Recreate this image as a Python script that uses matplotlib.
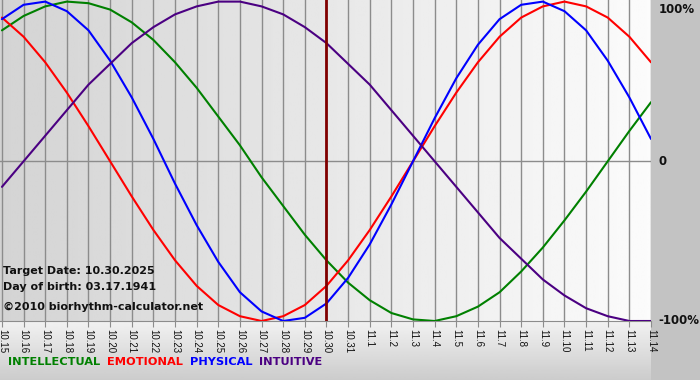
import numpy as np
import matplotlib
matplotlib.use("Agg")
import matplotlib.pyplot as plt
import matplotlib as mpl

mpl.rcParams.update({
    'font.family': 'DejaVu Sans',
    'figure.dpi': 100,
    'savefig.dpi': 100,
})

# Dias (10.15 -> 11.14)
day_labels = ['10.15', '10.16', '10.17', '10.18', '10.19', '10.20', '10.21',
              '10.22', '10.23', '10.24', '10.25', '10.26', '10.27', '10.28',
              '10.29', '10.30', '10.31', '11.1', '11.2', '11.3', '11.4',
              '11.5', '11.6', '11.7', '11.8', '11.9', '11.10', '11.11',
              '11.12', '11.13', '11.14']
target_label = '10.30'

# Valores (fracao de 100%)
intellectual = [0.82, 0.91, 0.97, 1.00, 0.99, 0.95, 0.87, 0.76, 0.62, 0.46,
                0.28, 0.10, -0.10, -0.28, -0.46, -0.62, -0.76, -0.87, -0.95,
                -0.99, -1.00, -0.97, -0.91, -0.82, -0.69, -0.54, -0.37, -0.19,
                0.00, 0.19, 0.37]
emotional = [0.90, 0.78, 0.62, 0.43, 0.22, 0.00, -0.22, -0.43, -0.62, -0.78,
             -0.90, -0.97, -1.00, -0.97, -0.90, -0.78, -0.62, -0.43, -0.22,
             0.00, 0.22, 0.43, 0.62, 0.78, 0.90, 0.97, 1.00, 0.97, 0.90,
             0.78, 0.62]
physical = [0.89, 0.98, 1.00, 0.94, 0.82, 0.63, 0.40, 0.14, -0.14, -0.40,
            -0.63, -0.82, -0.94, -1.00, -0.98, -0.89, -0.73, -0.52, -0.27,
            0.00, 0.27, 0.52, 0.73, 0.89, 0.98, 1.00, 0.94, 0.82, 0.63,
            0.40, 0.14]
intuitive = [-0.16, 0.00, 0.16, 0.32, 0.48, 0.61, 0.74, 0.84, 0.92, 0.97,
             1.00, 1.00, 0.97, 0.92, 0.84, 0.74, 0.61, 0.48, 0.32, 0.16,
             0.00, -0.16, -0.32, -0.48, -0.61, -0.74, -0.84, -0.92, -0.97,
             -1.00, -1.00]

series = [
    ('INTELLECTUAL', intellectual, '#008000'),
    ('EMOTIONAL', emotional, '#ff0000'),
    ('PHYSICAL', physical, '#0000ff'),
    ('INTUITIVE', intuitive, '#4b0082'),
]
y_labels = {1.0: '100%', 0.0: '0', -1.0: '-100%'}

W, H = 700, 380
fig = plt.figure(figsize=(W / 100, H / 100), facecolor='#c3c3c3')

# faixa inferior em degrade
bg = fig.add_axes([0, 0, 651 / W, 59 / H], zorder=-2)
bg.imshow(np.linspace(0.95, 0.80, 64).reshape(-1, 1), cmap='gray', vmin=0,
          vmax=1, aspect='auto', extent=[0, 1, 0, 1])
bg.set_axis_off()

ax = fig.add_axes([0, 1 - 321 / H, 651 / W, 321 / H])
x = np.arange(len(day_labels))
xmin, xmax = -0.09, len(day_labels) - 1
ymin, ymax = -1.0, 1.01
ax.set_xlim(xmin, xmax)
ax.set_ylim(ymin, ymax)

# fundo do grafico em degrade horizontal
ax.imshow(np.linspace(0.83, 0.985, 256).reshape(1, -1), cmap='gray', vmin=0,
          vmax=1, aspect='auto', extent=[xmin, xmax, ymin, ymax], zorder=0)

for xi in x:
    ax.axvline(xi, color='#8c8c8c', lw=1, zorder=1)
ax.axhline(0, color='#8c8c8c', lw=1, zorder=1)

for name, vals, col in series:
    ax.plot(x, vals, color=col, lw=1.5, zorder=3, solid_capstyle='round')

ax.axvline(day_labels.index(target_label), color='#800000', lw=2, zorder=4)

ax.set_xticks(x)
ax.set_xticklabels(day_labels, rotation=-90, fontsize=7,
                   family='Liberation Sans', color='#111111')
ax.tick_params(axis='x', length=4, color='#8c8c8c', pad=2)
ax.set_yticks([])
for s in ['top', 'left', 'right']:
    ax.spines[s].set_visible(False)
ax.spines['bottom'].set_color('#8c8c8c')

# rotulos a direita
for v, lab in y_labels.items():
    va = 'top' if v == 1.0 else 'center'
    dy = -1 if v == 1.0 else 0
    ax.annotate(lab, xy=(1, v), xycoords=('axes fraction', 'data'),
                xytext=(5.5, dy), textcoords='offset points', va=va,
                ha='left', fontsize=8.5, fontweight='bold', color='#111111',
                annotation_clip=False)

# informacao no canto
info = ['Target Date: 10.30.2025', 'Day of birth: 03.17.1941']
for i, t in enumerate(info):
    fig.text(3 / W, 1 - (271 + 16 * i) / H, t, fontsize=8,
             fontweight='bold', color='#111111', va='center')
fig.text(3 / W, 1 - 307 / H, '\u00a92010 biorhythm-calculator.net',
         fontsize=8, fontweight='bold', color='#111111', va='center')

# legenda em texto colorido
xpos = 8
for name, vals, col in series:
    t = fig.text(xpos / W, 1 - 362 / H, name, fontsize=8.2,
                 fontweight='bold', color=col, va='center')
    fig.canvas.draw()
    bb = t.get_window_extent()
    xpos = bb.x1 + 7

fig.savefig('out.png', dpi=100, facecolor=fig.get_facecolor())
